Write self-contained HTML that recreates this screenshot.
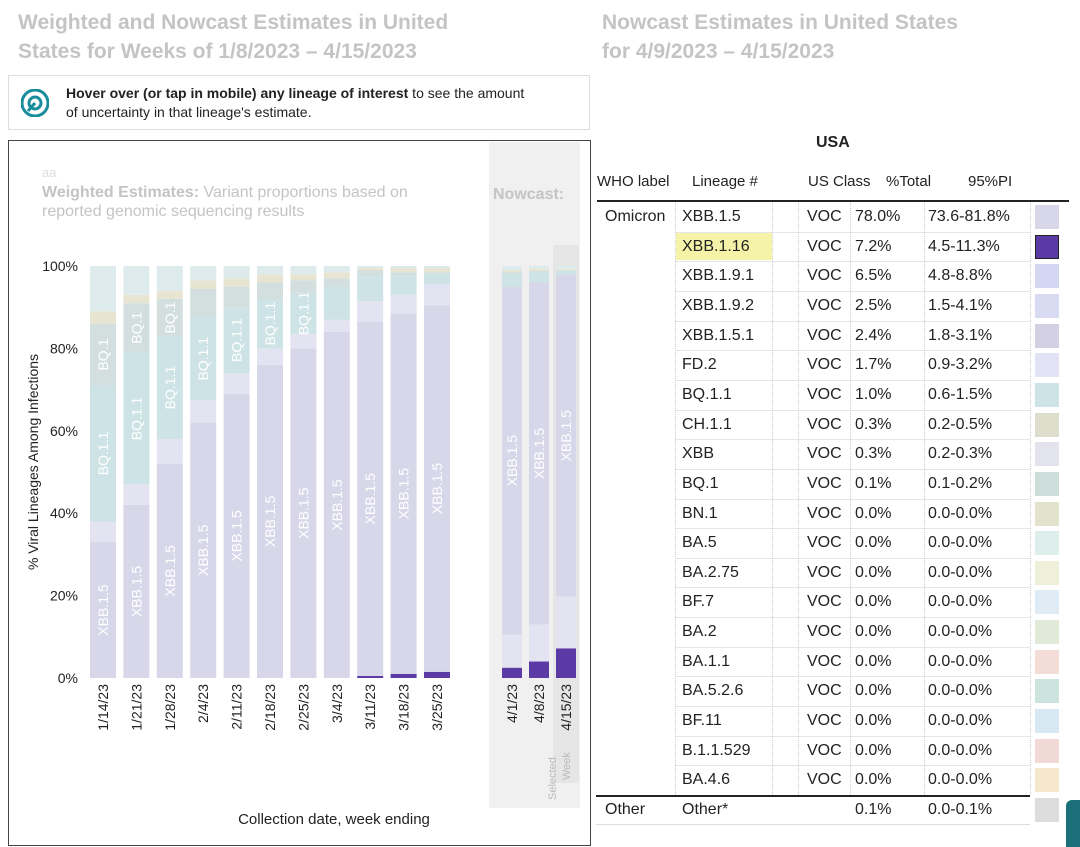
<!DOCTYPE html>
<html><head><meta charset="utf-8"><style>
body{margin:0;width:1080px;height:847px;background:#fff;font-family:"Liberation Sans",sans-serif;position:relative;overflow:hidden}
.t{position:absolute;color:#c4c4c4;font-weight:bold;font-size:21px;line-height:29px}
.c{position:absolute;font-size:16px;color:#222;white-space:nowrap;line-height:29px}
.hl{position:absolute;height:1px;background:#e6e6e6;left:598px;width:430px}
.vl{position:absolute;width:0;border-left:1px dotted #ccc}
</style></head><body>
<div class="t" style="left:18px;top:8px">Weighted and Nowcast Estimates in United<br>States for Weeks of 1/8/2023 – 4/15/2023</div>
<div class="t" style="left:602px;top:8px">Nowcast Estimates in United States<br>for 4/9/2023 – 4/15/2023</div>
<div style="position:absolute;left:8px;top:75px;width:582px;height:55px;border:1px solid #ddd;box-sizing:border-box;font-size:14px;line-height:19px;color:#222">
<svg style="position:absolute;left:12px;top:13px" width="28" height="28"><circle cx="14" cy="14" r="13" fill="#fff" stroke="#1a8d9c" stroke-width="3"/><circle cx="14" cy="14" r="6" fill="none" stroke="#1a8d9c" stroke-width="3"/><path d="M7 22 L14 14" stroke="#1a8d9c" stroke-width="3"/></svg>
<div style="position:absolute;left:57px;top:8px"><b>Hover over (or tap in mobile) any lineage of interest</b> to see the amount<br>of uncertainty in that lineage's estimate.</div></div>
<div style="position:absolute;left:8px;top:140px;width:583px;height:706px;border:1px solid #444;box-sizing:border-box"></div>
<svg id="ch" width="600" height="847" style="position:absolute;left:0;top:0"></svg>
<div id="tbl"></div>
<div style="position:absolute;left:1066px;top:800px;width:14px;height:47px;background:#1a6f78;border-radius:6px 0 0 0"></div>
<script>
const weeks=["1/14/23","1/21/23","1/28/23","2/4/23","2/11/23","2/18/23","2/25/23","3/4/23","3/11/23","3/18/23","3/25/23"];
const nowWeeks=["4/1/23","4/8/23","4/15/23"];
const xbb116=[0,0,0,0,0,0,0,0,0.5,1,1.5, 2.5,4,7.2];
const xbb15=[33,42,52,62,69,76,80,84,86,87.5,89, 84.5,83,78];
const xbbOther=[5,5,6,5.5,5,4,3.5,3,5,4.5,5, 8,9,12.6];
const tan=[3,2,2,2,2,2,1.5,1.5,0.5,1,1, 0.5,0.5,0.3];
const bq11=[33,32,25,20,16,12,10,8,6,4.5,2.5, 3,2.5,1];
const bq1=[15,12,9,7,5,4,3,2,1.5,1,0.5, 0.5,0.3,0.1];
const sXBB116=["XBB.1.16",xbb116,"#5b3aa5"],sXBB15=["XBB.1.5",xbb15,"#d7d7e9"],sOther=["XBB other",xbbOther,"#e3e3f1"];
const rest=[["BQ.1.1",bq11,"#cde3e5"],["BQ.1",bq1,"#d3dfdf"],["BN.1",tan,"#e7e5d2"]];
const yTicks=[0,20,40,60,80,100];
const svg=document.getElementById('ch');const NS="http://www.w3.org/2000/svg";
function y(v){return 678-v*4.12}
function mk(t,a,txt){const e=document.createElementNS(NS,t);for(const k in a)e.setAttribute(k,a[k]);if(txt!=null)e.textContent=txt;svg.appendChild(e);return e}
const g=mk('rect',{x:489,y:142,width:91,height:666,fill:'#f0f0f0'});


mk('rect',{x:553,y:245,width:26,height:538,fill:'#e6e6e6'});
mk('text',{x:42,y:177,fill:'#ddd','font-size':13},'aa');
const t1=mk('text',{x:42,y:197,fill:'#c4c4c4','font-size':16});t1.innerHTML='<tspan font-weight="bold">Weighted Estimates:</tspan> Variant proportions based on';
mk('text',{x:42,y:216,fill:'#c4c4c4','font-size':16},'reported genomic sequencing results');
mk('text',{x:493,y:199,fill:'#c4c4c4','font-size':16,'font-weight':'bold'},'Nowcast:');
yTicks.forEach(v=>{const t=mk('text',{x:78,y:y(v)+5,'text-anchor':'end','font-size':14,fill:'#222'},v+'%');

});
const yt=mk('text',{x:38,y:462,'font-size':14,fill:'#222','text-anchor':'middle',transform:'rotate(-90 38 462)'},'% Viral Lineages Among Infections');


const xt=mk('text',{x:334,y:824,'font-size':15,fill:'#222','text-anchor':'middle'},'Collection date, week ending');


const all=weeks.concat(nowWeeks);
all.forEach((w,i)=>{
 const now=i>=weeks.length;const cx=now?512+(i-weeks.length)*27:103+i*33.4;const bw=now?20:26;
 const order=now?[sXBB116,sOther,sXBB15].concat(rest):[sXBB116,sXBB15,sOther].concat(rest);
 let acc=0;
 order.forEach(s=>{const v=s[1][i];if(v<=0){return}
  const r=mk('rect',{x:cx-bw/2,y:y(acc+v),width:bw,height:v*4.12,fill:s[2]});
  
  
  if(v>8&&s[0]!="XBB other"){const my=y(acc+v/2);mk('text',{x:cx+5,y:my,fill:'#fff','font-size':14,'text-anchor':'middle',transform:`rotate(-90 ${cx+5} ${my})`},s[0])}
  acc+=v;});
 const r=mk('rect',{x:cx-bw/2,y:y(100),width:bw,height:(100-acc)*4.12,fill:'#deebed'});
 
 
 const lx=cx+5,ly=684;const l=mk('text',{x:lx,y:ly,'font-size':14,fill:'#222','text-anchor':'end',transform:`rotate(-90 ${lx} ${ly})`},w);
 
 
});
mk('text',{x:556,y:800,'font-size':11,fill:'#bbb',transform:'rotate(-90 556 800)'},'Selected');
mk('text',{x:570,y:780,'font-size':11,fill:'#bbb',transform:'rotate(-90 570 780)'},'Week');
// table
const lineages=["XBB.1.5","XBB.1.16","XBB.1.9.1","XBB.1.9.2","XBB.1.5.1","FD.2","BQ.1.1","CH.1.1","XBB","BQ.1","BN.1","BA.5","BA.2.75","BF.7","BA.2","BA.1.1","BA.5.2.6","BF.11","B.1.1.529","BA.4.6"];
const pct=["78.0%","7.2%","6.5%","2.5%","2.4%","1.7%","1.0%","0.3%","0.3%","0.1%","0.0%","0.0%","0.0%","0.0%","0.0%","0.0%","0.0%","0.0%","0.0%","0.0%"];
const pi=["73.6-81.8%","4.5-11.3%","4.8-8.8%","1.5-4.1%","1.8-3.1%","0.9-3.2%","0.6-1.5%","0.2-0.5%","0.2-0.3%","0.1-0.2%","0.0-0.0%","0.0-0.0%","0.0-0.0%","0.0-0.0%","0.0-0.0%","0.0-0.0%","0.0-0.0%","0.0-0.0%","0.0-0.0%","0.0-0.0%"];
const sw=["#d7d7e9","#5b3aa5","#d4d6f2","#d9dbf3","#d2d0e2","#e2e3f6","#cde3e5","#dfddcc","#e3e3ee","#cdddda","#e3e2cc","#deeeec","#eef0da","#e0ecf5","#e1ead8","#f3ddd6","#cde3de","#d6e9f3","#f1dad6","#f6e8cc"];
let h='<div class="c" style="left:816px;top:128px;font-weight:bold">USA</div>';
['WHO label@597','Lineage #@692','US Class@808','%Total@886','95%PI@968'].forEach(s=>{const [t,x]=s.split('@');h+=`<div class="c" style="left:${x}px;top:167px;font-size:15px">${t}</div>`});
h+='<div style="position:absolute;left:597px;top:200px;width:472px;height:2px;background:#222"></div>';
const R0=202,RH=29.65;
lineages.forEach((l,i)=>{const top=R0+i*RH;
 h+=`<div>`;
 if(i==1)h+=`<div style="position:absolute;left:676px;top:${top+1}px;width:96px;height:${RH-2}px;background:#f5f3a8"></div>`;
 if(i==0)h+=`<div class="c" style="left:605px;top:${top}px">Omicron</div>`;
 h+=`<div class="c" style="left:682px;top:${top}px">${l}</div><div class="c" style="left:807px;top:${top}px">VOC</div><div class="c" style="left:855px;top:${top}px">${pct[i]}</div><div class="c" style="left:928px;top:${top}px">${pi[i]}</div>`;
 h+=`<div style="position:absolute;left:1035px;top:${top+3}px;width:24px;height:24px;background:${sw[i]};box-sizing:border-box;${i==1?'border:1px solid #222':''}"></div>`;
 h+=`<div class="hl" style="top:${top+RH}px;left:675px;width:355px"></div></div>`;});
[675,772,798,850,924,1030].forEach(x=>{h+=`<div class="vl" style="left:${x}px;top:202px;height:593px"></div>`});
h+='<div style="position:absolute;left:596px;top:795px;width:434px;height:2px;background:#222"></div>';
h+='<div class="c" style="left:605px;top:795px">Other</div><div class="c" style="left:682px;top:795px">Other*</div><div class="c" style="left:855px;top:795px">0.1%</div><div class="c" style="left:928px;top:795px">0.0-0.1%</div><div style="position:absolute;left:1035px;top:798px;width:24px;height:24px;background:#ddd"></div>';
h+='<div style="position:absolute;left:596px;top:824px;width:434px;height:1px;background:#ddd"></div>';
document.getElementById('tbl').innerHTML=h;
</script></body></html>
